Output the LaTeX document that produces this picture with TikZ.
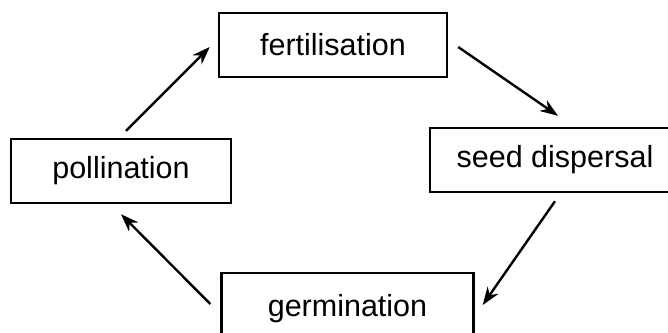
\documentclass[tikz,border=0pt]{standalone}
\usepackage{fontspec}
\setmainfont{Liberation Sans}
\usetikzlibrary{arrows.meta}
\begin{document}
\begin{tikzpicture}[x=1pt,y=-1pt,
  stagebox/.style={draw=black,line width=2.4pt,minimum height=64pt,inner sep=0pt,
    font=\fontsize{30.5}{34}\selectfont},
  arr/.style={line width=2.4pt,-{Stealth[length=18pt,width=13pt]}}]
\useasboundingbox (0,0) rectangle (668,332);
\clip (0,0) rectangle (668,332);
\node[stagebox,minimum width=228pt] (fert) at (333,45) {fertilisation};
\node[stagebox,minimum width=220pt] (poll) at (121,171) {pollination};
\node[stagebox,minimum width=250pt] (seed) at (555,160) {seed dispersal};
\node[stagebox,minimum width=252pt,minimum height=72pt] (germ) at (347.5,309) {germination};
\draw[arr] ([xshift=5pt,yshift=7pt]poll.north) -- ([xshift=-8pt,yshift=-2pt]fert.west);
\draw[arr] ([xshift=10pt,yshift=-2pt]fert.east) -- ([xshift=3pt,yshift=11pt]seed.north);
\draw[arr] ([yshift=-8pt]seed.south) -- ([xshift=8pt,yshift=4pt]germ.east);
\draw[arr] ([xshift=-10pt,yshift=5pt]germ.west) -- ([yshift=-10pt]poll.south);
\end{tikzpicture}
\end{document}
